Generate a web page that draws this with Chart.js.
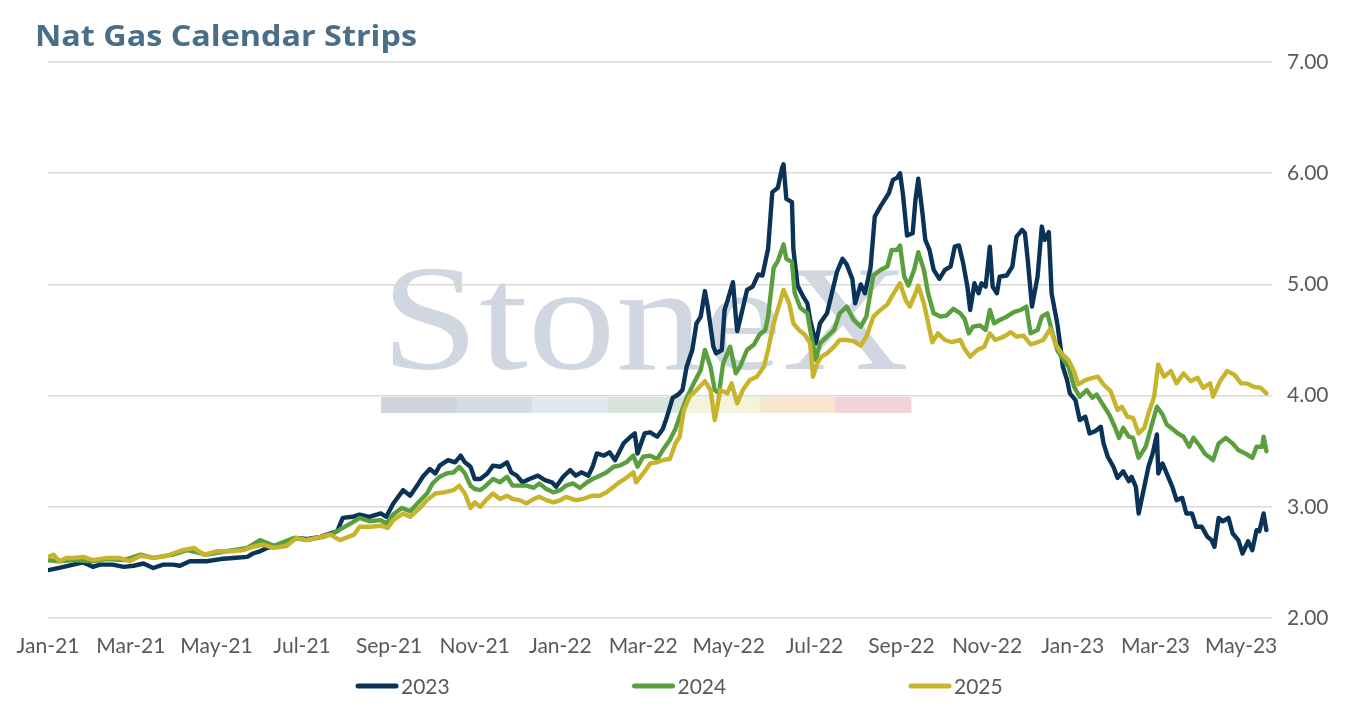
<!DOCTYPE html>
<html lang="en">
<head>
  <meta charset="UTF-8">
  <title>Nat Gas Calendar Strips</title>
  <script src="https://cdn.jsdelivr.net/npm/chart.js"></script>
  <style>
    html, body { margin: 0; padding: 0; background: #fff; }
    .chart-wrap { position: relative; width: 1350px; height: 707px; }
  </style>
</head>
<body>

<div class="chart-wrap">
  <canvas id="stripChart"></canvas>
</div>

<script>
  // x = days counted from 1 Jan 2021, y = strip price
  const tickDays = [0, 59, 120, 181, 243, 304, 365, 424, 485, 546, 608, 669, 730, 789, 850];
  const tickLabels = ['Jan-21', 'Mar-21', 'May-21', 'Jul-21', 'Sep-21', 'Nov-21', 'Jan-22', 'Mar-22',
                      'May-22', 'Jul-22', 'Sep-22', 'Nov-22', 'Jan-23', 'Mar-23', 'May-23'];
  const yTicks = [2, 3, 4, 5, 6, 7];
  const seriesNames = ['2023', '2024', '2025'];

  const strip2023 = [
    [0,2.43],[8,2.45],[18,2.48],[25,2.50],[32,2.46],[37,2.48],[46,2.48],[54,2.46],[61,2.47],[68,2.49],
    [75,2.45],[82,2.48],[89,2.48],[94,2.47],[101,2.51],[108,2.51],[113,2.51],[123,2.53],[132,2.54],[142,2.55],
    [146,2.58],[151,2.60],[156,2.63],[160,2.64],[170,2.65],[176,2.72],[184,2.71],[194,2.73],[201,2.76],[206,2.78],
    [210,2.90],[217,2.91],[222,2.93],[229,2.91],[237,2.94],[241,2.91],[246,3.03],[253,3.15],[258,3.10],[264,3.21],
    [267,3.27],[272,3.34],[276,3.30],[279,3.37],[285,3.42],[290,3.40],[294,3.46],[297,3.40],[301,3.36],[304,3.25],
    [308,3.25],[313,3.30],[317,3.37],[322,3.36],[327,3.40],[330,3.31],[334,3.28],[338,3.22],[343,3.25],[349,3.28],
    [354,3.24],[359,3.22],[362,3.18],[367,3.27],[372,3.33],[376,3.28],[380,3.31],[385,3.28],[388,3.36],[391,3.48],
    [396,3.46],[400,3.49],[404,3.42],[410,3.57],[415,3.63],[418,3.66],[420,3.48],[425,3.66],[429,3.67],[434,3.63],
    [438,3.70],[441,3.81],[445,3.98],[449,4.01],[452,4.05],[455,4.26],[459,4.41],[462,4.65],[465,4.71],[468,4.94],
    [470,4.80],[474,4.44],[476,4.38],[480,4.41],[482,4.77],[484,4.85],[488,5.02],[490,4.71],[491,4.58],[493,4.68],
    [498,4.95],[502,4.98],[506,5.09],[509,5.08],[513,5.32],[516,5.83],[520,5.87],[523,6.05],[524,6.08],[526,5.77],
    [530,5.74],[531,5.32],[534,4.99],[538,4.89],[541,4.83],[543,4.68],[547,4.47],[550,4.65],[555,4.74],[559,4.95],
    [562,5.11],[566,5.23],[569,5.18],[573,5.05],[575,4.83],[579,5.00],[582,4.92],[586,5.15],[589,5.61],[593,5.70],
    [595,5.74],[599,5.82],[602,5.94],[605,5.96],[607,6.00],[609,5.82],[612,5.44],[616,5.46],[618,5.76],[620,5.95],
    [623,5.64],[625,5.40],[628,5.31],[631,5.13],[635,5.05],[639,5.13],[643,5.16],[646,5.34],[649,5.35],[652,5.19],
    [655,4.98],[657,4.77],[660,5.01],[663,4.92],[665,5.01],[668,4.98],[671,5.34],[673,4.98],[676,4.92],[678,5.07],
    [683,5.08],[687,5.16],[690,5.43],[694,5.49],[696,5.46],[698,5.22],[701,4.80],[705,5.07],[708,5.52],[710,5.40],
    [713,5.47],[715,4.92],[719,4.65],[721,4.47],[723,4.26],[726,4.14],[728,4.02],[732,3.96],[735,3.78],[739,3.81],
    [742,3.66],[746,3.68],[750,3.72],[752,3.57],[755,3.45],[759,3.36],[762,3.26],[766,3.32],[770,3.23],[772,3.27],
    [775,3.18],[777,2.94],[780,3.12],[784,3.36],[787,3.48],[790,3.65],[791,3.30],[794,3.39],[797,3.30],[801,3.18],
    [804,3.06],[808,3.08],[811,2.94],[815,2.94],[818,2.82],[822,2.82],[826,2.73],[829,2.70],[831,2.64],[834,2.90],
    [837,2.87],[841,2.90],[844,2.76],[848,2.70],[851,2.58],[855,2.69],[858,2.61],[861,2.79],[863,2.78],[866,2.94],
    [868,2.79]
  ];

  const strip2024 = [
    [0,2.52],[8,2.51],[18,2.52],[32,2.51],[42,2.53],[54,2.52],[66,2.57],[75,2.54],[89,2.57],[99,2.61],
    [113,2.57],[127,2.60],[142,2.63],[151,2.70],[161,2.65],[175,2.72],[184,2.70],[196,2.73],[203,2.76],[210,2.81],
    [217,2.86],[222,2.90],[229,2.87],[237,2.88],[241,2.85],[246,2.93],[252,2.99],[258,2.96],[264,3.04],[270,3.12],
    [274,3.21],[279,3.27],[284,3.30],[289,3.31],[293,3.36],[297,3.30],[301,3.19],[304,3.16],[308,3.15],[312,3.19],
    [317,3.25],[322,3.22],[327,3.27],[331,3.19],[336,3.19],[341,3.19],[346,3.17],[350,3.21],[355,3.16],[360,3.13],
    [365,3.15],[369,3.19],[374,3.21],[379,3.17],[384,3.22],[388,3.25],[393,3.28],[398,3.31],[403,3.36],[407,3.37],
    [412,3.40],[417,3.46],[420,3.36],[424,3.45],[429,3.46],[434,3.43],[438,3.51],[443,3.60],[447,3.70],[450,3.81],
    [455,3.98],[460,4.11],[465,4.23],[468,4.41],[472,4.26],[475,4.05],[478,4.02],[481,4.29],[486,4.44],[490,4.20],
    [493,4.26],[498,4.41],[503,4.46],[507,4.55],[511,4.59],[513,4.71],[517,5.15],[520,5.21],[524,5.36],[526,5.23],
    [530,5.20],[532,4.92],[536,4.79],[541,4.74],[543,4.59],[547,4.32],[550,4.47],[555,4.53],[560,4.59],[564,4.74],
    [569,4.80],[574,4.68],[579,4.62],[583,4.71],[588,5.08],[593,5.13],[598,5.16],[601,5.31],[605,5.31],[607,5.35],
    [610,5.07],[613,4.99],[617,5.13],[620,5.29],[624,5.13],[627,4.92],[631,4.74],[636,4.71],[640,4.72],[645,4.78],
    [650,4.74],[653,4.69],[656,4.56],[659,4.62],[664,4.63],[668,4.59],[671,4.77],[674,4.65],[678,4.68],[683,4.71],
    [688,4.75],[693,4.77],[697,4.80],[700,4.56],[705,4.59],[708,4.71],[712,4.74],[715,4.59],[719,4.41],[724,4.31],
    [727,4.26],[731,4.08],[735,3.99],[740,4.05],[744,3.98],[747,4.01],[751,3.93],[756,3.83],[760,3.72],[763,3.62],
    [766,3.71],[770,3.63],[773,3.62],[777,3.44],[782,3.54],[786,3.72],[790,3.90],[794,3.83],[797,3.74],[802,3.69],
    [805,3.66],[809,3.63],[813,3.54],[816,3.62],[821,3.54],[824,3.48],[830,3.42],[834,3.57],[839,3.62],[844,3.57],
    [848,3.51],[853,3.48],[858,3.44],[861,3.54],[865,3.54],[866,3.63],[868,3.50]
  ];

  const strip2025 = [
    [0,2.55],[4,2.57],[8,2.51],[13,2.54],[18,2.54],[25,2.55],[32,2.52],[42,2.54],[51,2.54],[58,2.51],
    [66,2.56],[75,2.54],[85,2.56],[89,2.58],[96,2.61],[104,2.63],[111,2.57],[120,2.60],[130,2.60],[139,2.61],
    [146,2.64],[153,2.66],[161,2.63],[170,2.65],[177,2.72],[184,2.70],[194,2.73],[201,2.75],[208,2.70],[218,2.75],
    [222,2.82],[229,2.82],[237,2.83],[242,2.81],[246,2.88],[253,2.94],[258,2.91],[265,2.99],[270,3.06],[276,3.12],
    [282,3.13],[289,3.15],[293,3.19],[297,3.12],[301,2.99],[304,3.04],[308,3.00],[312,3.06],[317,3.12],[322,3.07],
    [327,3.10],[331,3.07],[336,3.06],[341,3.03],[346,3.07],[350,3.09],[355,3.06],[360,3.04],[365,3.06],[369,3.09],
    [376,3.06],[381,3.07],[388,3.10],[393,3.10],[398,3.13],[403,3.18],[407,3.22],[412,3.26],[417,3.31],[419,3.22],
    [424,3.30],[429,3.39],[434,3.40],[438,3.42],[443,3.43],[447,3.57],[450,3.63],[453,3.87],[457,3.99],[462,4.05],
    [468,4.13],[472,4.05],[475,3.78],[479,4.05],[484,4.02],[487,4.11],[491,3.93],[495,4.05],[500,4.14],[505,4.17],
    [510,4.26],[513,4.41],[517,4.65],[522,4.86],[524,4.95],[528,4.83],[531,4.65],[535,4.59],[539,4.55],[543,4.47],
    [545,4.17],[548,4.29],[551,4.35],[555,4.38],[560,4.44],[564,4.50],[569,4.50],[574,4.49],[579,4.45],[583,4.53],
    [588,4.71],[593,4.77],[598,4.82],[602,4.91],[607,5.01],[611,4.86],[614,4.80],[618,4.92],[620,4.99],[624,4.83],
    [630,4.48],[634,4.56],[639,4.50],[644,4.48],[650,4.50],[653,4.42],[657,4.35],[662,4.41],[667,4.44],[671,4.56],
    [675,4.50],[681,4.53],[686,4.57],[690,4.53],[695,4.54],[700,4.46],[705,4.48],[709,4.50],[714,4.60],[718,4.46],
    [722,4.38],[727,4.32],[731,4.22],[734,4.10],[739,4.14],[744,4.16],[748,4.17],[752,4.10],[757,4.04],[762,3.87],
    [765,3.90],[769,3.81],[773,3.80],[777,3.66],[781,3.71],[784,3.84],[788,3.99],[791,4.28],[795,4.17],[800,4.22],
    [804,4.11],[809,4.20],[814,4.13],[819,4.16],[823,4.07],[828,4.11],[830,3.99],[835,4.13],[840,4.22],[845,4.19],
    [850,4.11],[854,4.11],[859,4.08],[864,4.07],[868,4.02]
  ];

  const lineColors = ['#0b3358', '#5a9f3d', '#c8b32d'];
  const textGrey = '#595959';
  const tickFont = { family: 'Lato', size: 21 };

  const toPoints = rows => rows.map(r => ({ x: r[0], y: r[1] }));

  // watermark, title and legend are drawn by hand
  const decor = {
    id: 'decor',
    beforeDraw(chart) {
      const ctx = chart.ctx;
      ctx.save();
      ctx.fillStyle = '#fff';
      ctx.fillRect(0, 0, chart.width, chart.height);

      ctx.save();
      ctx.font = '150px "Liberation Serif"';
      const w = ctx.measureText('StoneX').width;
      ctx.translate(381, 369);
      ctx.scale(528 / w, 1);
      ctx.fillStyle = '#d0d7e0';
      ctx.textBaseline = 'alphabetic';
      ctx.fillText('StoneX', 0, 0);
      ctx.restore();

      const bar = ['#cfd5dd', '#d3dde7', '#deeaf3', '#d6e5dc', '#f6f3dc', '#f8e5d0', '#f0d4d6'];
      bar.forEach((c, i) => {
        ctx.fillStyle = c;
        ctx.fillRect(381 + i * 75.7, 397, 76.2, 16);
      });
      ctx.restore();
    },
    afterDraw(chart) {
      const ctx = chart.ctx;
      ctx.save();
      ctx.font = 'bold 29px "Open Sans"';
      const tw = ctx.measureText('Nat Gas Calendar Strips').width;
      ctx.save();
      ctx.translate(35, 46);
      ctx.scale(382 / tw, 1);
      ctx.fillStyle = '#4a6e88';
      ctx.textBaseline = 'alphabetic';
      ctx.fillText('Nat Gas Calendar Strips', 0, 0);
      ctx.restore();

      ctx.font = '21px Lato';
      ctx.textBaseline = 'middle';
      chart.data.datasets.forEach((ds, i) => {
        const x = 355 + i * 276.5;
        ctx.strokeStyle = ds.borderColor;
        ctx.lineWidth = 5;
        ctx.lineCap = 'round';
        ctx.beginPath();
        ctx.moveTo(x + 3, 686);
        ctx.lineTo(x + 41, 686);
        ctx.stroke();
        ctx.fillStyle = textGrey;
        ctx.fillText(ds.label, x + 46, 687);
      });
      ctx.restore();
    }
  };

  const ctx = document.getElementById('stripChart').getContext('2d');
  new Chart(ctx, {
    type: 'line',
    data: {
      datasets: [strip2023, strip2024, strip2025].map((rows, i) => ({
        label: seriesNames[i],
        data: toPoints(rows),
        borderColor: lineColors[i],
        backgroundColor: lineColors[i],
        borderWidth: 4.4,
        borderJoinStyle: 'round',
        borderCapStyle: 'round',
        pointRadius: 0,
        tension: 0,
        order: 3 - i
      }))
    },
    options: {
      responsive: true,
      maintainAspectRatio: false,
      animation: false,
      layout: { padding: { left: 48, right: 0, top: 62, bottom: 39 } },
      plugins: {
        legend: { display: false },
        tooltip: { enabled: false }
      },
      scales: {
        x: {
          type: 'linear',
          min: 0,
          max: 872,
          afterBuildTicks: axis => { axis.ticks = tickDays.map(v => ({ value: v })); },
          afterFit: axis => { axis.height = 50; },
          grid: { display: false, drawTicks: false },
          border: { display: false },
          ticks: {
            autoSkip: false,
            maxRotation: 0,
            padding: 16,
            color: textGrey,
            font: tickFont,
            callback: (v, i) => tickLabels[i]
          }
        },
        y: {
          position: 'right',
          min: 2,
          max: 7,
          afterBuildTicks: axis => { axis.ticks = yTicks.map(v => ({ value: v })); },
          afterFit: axis => { axis.width = 78; },
          grid: { color: '#d9d9d9', lineWidth: 1.5, drawTicks: false },
          border: { display: false },
          ticks: {
            padding: 15,
            color: textGrey,
            font: tickFont,
            callback: v => Number(v).toFixed(2)
          }
        }
      }
    },
    plugins: [decor]
  });
</script>

</body>
</html>
